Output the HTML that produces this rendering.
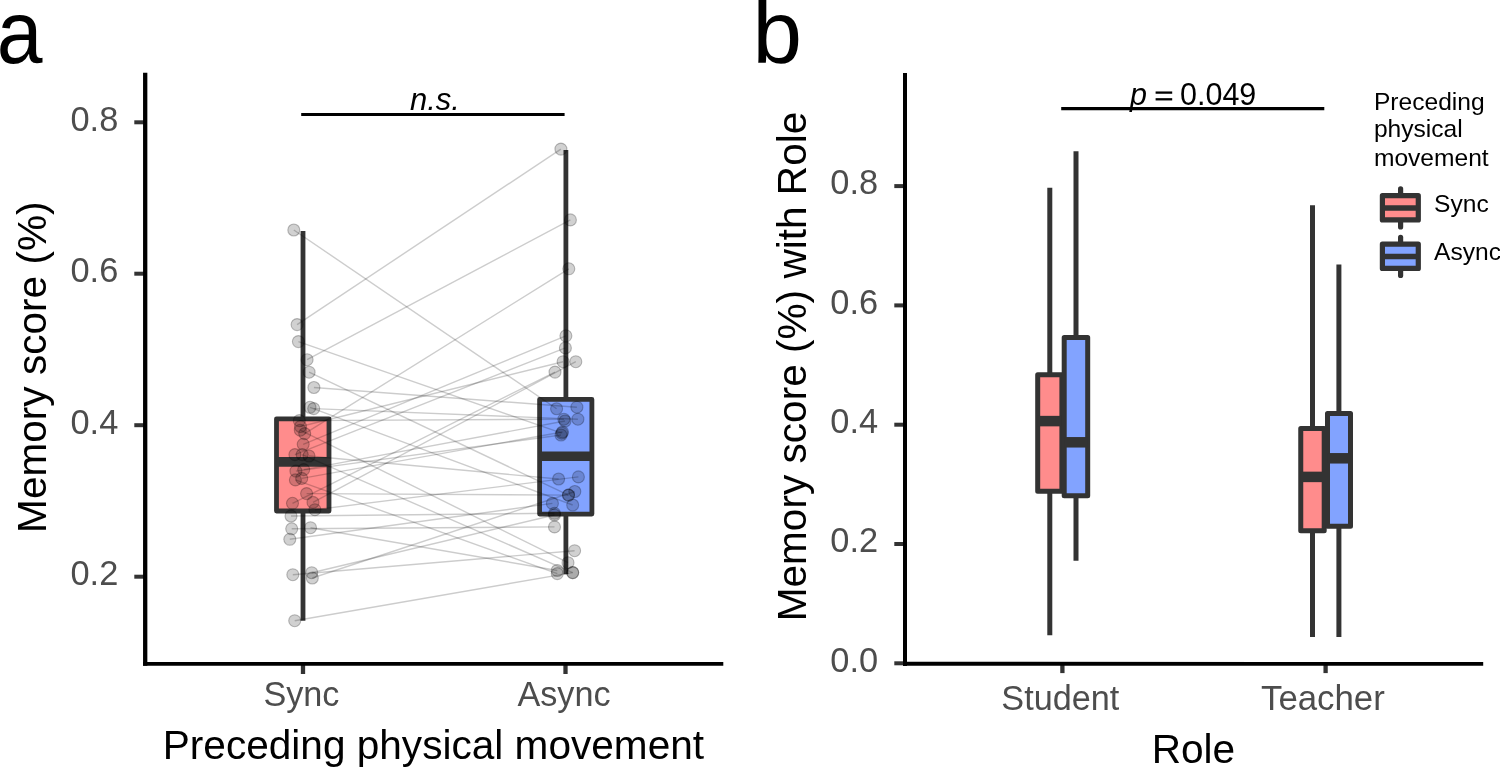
<!DOCTYPE html><html><head><meta charset="utf-8"><style>html,body{margin:0;padding:0;background:#fff;width:1500px;height:768px;overflow:hidden}svg{display:block;will-change:transform}text{font-family:"Liberation Sans", sans-serif}</style></head><body>
<svg width="1500" height="768" viewBox="0 0 1500 768">
<rect width="1500" height="768" fill="#fff"/>
<text transform="translate(-3.2,63) scale(0.925,1)" font-size="89" fill="#000">a</text>
<text x="752.4" y="63" font-size="89" text-anchor="start" fill="#000" >b</text>
<text transform="translate(46.4,367.2) rotate(-90)" font-size="40.6" text-anchor="middle" fill="#000">Memory score (%)</text>
<line x1="134.3" y1="122.3" x2="145" y2="122.3" stroke="#333333" stroke-width="4"/>
<text x="118.3" y="130.6" font-size="34.4" text-anchor="end" fill="#4D4D4D" >0.8</text>
<line x1="134.3" y1="273.7" x2="145" y2="273.7" stroke="#333333" stroke-width="4"/>
<text x="118.3" y="282.0" font-size="34.4" text-anchor="end" fill="#4D4D4D" >0.6</text>
<line x1="134.3" y1="425.2" x2="145" y2="425.2" stroke="#333333" stroke-width="4"/>
<text x="118.3" y="433.5" font-size="34.4" text-anchor="end" fill="#4D4D4D" >0.4</text>
<line x1="134.3" y1="576.7" x2="145" y2="576.7" stroke="#333333" stroke-width="4"/>
<text x="118.3" y="585.0" font-size="34.4" text-anchor="end" fill="#4D4D4D" >0.2</text>
<line x1="303" y1="663" x2="303" y2="674" stroke="#333333" stroke-width="4.3"/>
<text x="301.4" y="706.3" font-size="34.2" text-anchor="middle" fill="#4D4D4D" >Sync</text>
<line x1="565.5" y1="663" x2="565.5" y2="674" stroke="#333333" stroke-width="4.3"/>
<text x="564" y="706.3" font-size="34.2" text-anchor="middle" fill="#4D4D4D" >Async</text>
<text x="433.4" y="759.4" font-size="40.6" text-anchor="middle" fill="#000" >Preceding physical movement</text>
<line x1="303" y1="231" x2="303" y2="620.7" stroke="#333333" stroke-width="4.8"/>
<line x1="565.9" y1="150" x2="565.9" y2="574.2" stroke="#333333" stroke-width="4.8"/>
<rect x="276.5" y="418.8" width="52.5" height="92.2" fill="#FF8C8C" stroke="#333333" stroke-width="4.8" stroke-linejoin="round"/>
<line x1="276.5" y1="461.9" x2="329" y2="461.9" stroke="#333333" stroke-width="9.8"/>
<rect x="539.6" y="399.4" width="52.3" height="114.7" fill="#82A3FF" stroke="#333333" stroke-width="4.8" stroke-linejoin="round"/>
<line x1="539.6" y1="456.2" x2="591.9" y2="456.2" stroke="#333333" stroke-width="9.6"/>
<g stroke="#000" stroke-opacity="0.2" stroke-width="1.4">
<line x1="293.8" y1="230.0" x2="556.6" y2="408.75"/>
<line x1="297.1" y1="324.6" x2="560.9" y2="149.1"/>
<line x1="298.4" y1="341.6" x2="561.8" y2="433.2"/>
<line x1="307.1" y1="359.7" x2="570.4" y2="219.9"/>
<line x1="309.1" y1="372.2" x2="568.5" y2="495.1"/>
<line x1="313.9" y1="387.5" x2="576.9" y2="407.2"/>
<line x1="313.7" y1="408.6" x2="577.9" y2="419.2"/>
<line x1="310.0" y1="407.3" x2="572.7" y2="505.0"/>
<line x1="299.3" y1="420.6" x2="563.9" y2="419.2"/>
<line x1="300.5" y1="426.5" x2="563.1" y2="361.7"/>
<line x1="304.7" y1="433.6" x2="568.8" y2="268.8"/>
<line x1="300.3" y1="430.2" x2="568.0" y2="562.7"/>
<line x1="303.2" y1="444.3" x2="565.9" y2="335.8"/>
<line x1="294.9" y1="454.6" x2="565.4" y2="347.9"/>
<line x1="302.2" y1="454.6" x2="572.7" y2="572.6"/>
<line x1="309.0" y1="456.0" x2="558.6" y2="479.0"/>
<line x1="295.9" y1="471.1" x2="561.0" y2="435.0"/>
<line x1="303.7" y1="469.6" x2="565.0" y2="421.0"/>
<line x1="295.4" y1="479.9" x2="557.3" y2="573.6"/>
<line x1="301.7" y1="478.4" x2="562.5" y2="432.0"/>
<line x1="306.6" y1="493.6" x2="568.5" y2="495.1"/>
<line x1="292.5" y1="503.3" x2="555.0" y2="372.1"/>
<line x1="313.0" y1="502.4" x2="575.8" y2="361.7"/>
<line x1="314.9" y1="509.7" x2="578.4" y2="476.9"/>
<line x1="291.0" y1="516.0" x2="554.5" y2="513.3"/>
<line x1="291.7" y1="528.8" x2="554.5" y2="526.9"/>
<line x1="310.5" y1="527.7" x2="557.3" y2="570.5"/>
<line x1="289.8" y1="539.3" x2="552.4" y2="503.4"/>
<line x1="292.8" y1="574.7" x2="574.6" y2="550.7"/>
<line x1="311.7" y1="572.7" x2="554.5" y2="515.0"/>
<line x1="312.3" y1="578.0" x2="574.8" y2="491.5"/>
<line x1="294.7" y1="620.7" x2="572.7" y2="572.6"/>
</g>
<g fill="#000" fill-opacity="0.18" stroke="#000" stroke-opacity="0.25" stroke-width="1.1">
<circle cx="293.8" cy="230.0" r="6.0"/>
<circle cx="556.6" cy="408.75" r="6.0"/>
<circle cx="297.1" cy="324.6" r="6.0"/>
<circle cx="560.9" cy="149.1" r="6.0"/>
<circle cx="298.4" cy="341.6" r="6.0"/>
<circle cx="561.8" cy="433.2" r="6.0"/>
<circle cx="307.1" cy="359.7" r="6.0"/>
<circle cx="570.4" cy="219.9" r="6.0"/>
<circle cx="309.1" cy="372.2" r="6.0"/>
<circle cx="568.5" cy="495.1" r="6.0"/>
<circle cx="313.9" cy="387.5" r="6.0"/>
<circle cx="576.9" cy="407.2" r="6.0"/>
<circle cx="313.7" cy="408.6" r="6.0"/>
<circle cx="577.9" cy="419.2" r="6.0"/>
<circle cx="310.0" cy="407.3" r="6.0"/>
<circle cx="572.7" cy="505.0" r="6.0"/>
<circle cx="299.3" cy="420.6" r="6.0"/>
<circle cx="563.9" cy="419.2" r="6.0"/>
<circle cx="300.5" cy="426.5" r="6.0"/>
<circle cx="563.1" cy="361.7" r="6.0"/>
<circle cx="304.7" cy="433.6" r="6.0"/>
<circle cx="568.8" cy="268.8" r="6.0"/>
<circle cx="300.3" cy="430.2" r="6.0"/>
<circle cx="568.0" cy="562.7" r="6.0"/>
<circle cx="303.2" cy="444.3" r="6.0"/>
<circle cx="565.9" cy="335.8" r="6.0"/>
<circle cx="294.9" cy="454.6" r="6.0"/>
<circle cx="565.4" cy="347.9" r="6.0"/>
<circle cx="302.2" cy="454.6" r="6.0"/>
<circle cx="572.7" cy="572.6" r="6.0"/>
<circle cx="309.0" cy="456.0" r="6.0"/>
<circle cx="558.6" cy="479.0" r="6.0"/>
<circle cx="295.9" cy="471.1" r="6.0"/>
<circle cx="561.0" cy="435.0" r="6.0"/>
<circle cx="303.7" cy="469.6" r="6.0"/>
<circle cx="565.0" cy="421.0" r="6.0"/>
<circle cx="295.4" cy="479.9" r="6.0"/>
<circle cx="557.3" cy="573.6" r="6.0"/>
<circle cx="301.7" cy="478.4" r="6.0"/>
<circle cx="562.5" cy="432.0" r="6.0"/>
<circle cx="306.6" cy="493.6" r="6.0"/>
<circle cx="568.5" cy="495.1" r="6.0"/>
<circle cx="292.5" cy="503.3" r="6.0"/>
<circle cx="555.0" cy="372.1" r="6.0"/>
<circle cx="313.0" cy="502.4" r="6.0"/>
<circle cx="575.8" cy="361.7" r="6.0"/>
<circle cx="314.9" cy="509.7" r="6.0"/>
<circle cx="578.4" cy="476.9" r="6.0"/>
<circle cx="291.0" cy="516.0" r="6.0"/>
<circle cx="554.5" cy="513.3" r="6.0"/>
<circle cx="291.7" cy="528.8" r="6.0"/>
<circle cx="554.5" cy="526.9" r="6.0"/>
<circle cx="310.5" cy="527.7" r="6.0"/>
<circle cx="557.3" cy="570.5" r="6.0"/>
<circle cx="289.8" cy="539.3" r="6.0"/>
<circle cx="552.4" cy="503.4" r="6.0"/>
<circle cx="292.8" cy="574.7" r="6.0"/>
<circle cx="574.6" cy="550.7" r="6.0"/>
<circle cx="311.7" cy="572.7" r="6.0"/>
<circle cx="554.5" cy="515.0" r="6.0"/>
<circle cx="312.3" cy="578.0" r="6.0"/>
<circle cx="574.8" cy="491.5" r="6.0"/>
<circle cx="294.7" cy="620.7" r="6.0"/>
<circle cx="572.7" cy="572.6" r="6.0"/>
</g>
<line x1="145.2" y1="72.7" x2="145.2" y2="665.7" stroke="#000" stroke-width="4.3"/>
<line x1="143.1" y1="663.9" x2="723.3" y2="663.9" stroke="#000" stroke-width="3.8"/>
<line x1="301.2" y1="114.5" x2="564.6" y2="114.5" stroke="#000" stroke-width="3.1"/>
<text x="410" y="110" font-size="31" text-anchor="start" fill="#000" font-style="italic">n.s.</text>
<text transform="translate(805.8,366.5) rotate(-90)" font-size="40.6" text-anchor="middle" fill="#000">Memory score (%) with Role</text>
<line x1="894.3" y1="663.3" x2="905" y2="663.3" stroke="#333333" stroke-width="4"/>
<text x="878.1" y="671.5999999999999" font-size="34.4" text-anchor="end" fill="#4D4D4D" >0.0</text>
<line x1="894.3" y1="544.0" x2="905" y2="544.0" stroke="#333333" stroke-width="4"/>
<text x="878.1" y="552.3" font-size="34.4" text-anchor="end" fill="#4D4D4D" >0.2</text>
<line x1="894.3" y1="424.7" x2="905" y2="424.7" stroke="#333333" stroke-width="4"/>
<text x="878.1" y="433.0" font-size="34.4" text-anchor="end" fill="#4D4D4D" >0.4</text>
<line x1="894.3" y1="305.4" x2="905" y2="305.4" stroke="#333333" stroke-width="4"/>
<text x="878.1" y="313.7" font-size="34.4" text-anchor="end" fill="#4D4D4D" >0.6</text>
<line x1="894.3" y1="186.1" x2="905" y2="186.1" stroke="#333333" stroke-width="4"/>
<text x="878.1" y="194.4" font-size="34.4" text-anchor="end" fill="#4D4D4D" >0.8</text>
<line x1="1062.4" y1="663" x2="1062.4" y2="673.1" stroke="#333333" stroke-width="4.3"/>
<text x="1060.3" y="710" font-size="34.2" text-anchor="middle" fill="#4D4D4D" >Student</text>
<line x1="1325.6" y1="663" x2="1325.6" y2="673.1" stroke="#333333" stroke-width="4.3"/>
<text x="1322.9" y="710" font-size="34.8" text-anchor="middle" fill="#4D4D4D" >Teacher</text>
<text x="1193.4" y="763.3" font-size="40.6" text-anchor="middle" fill="#000" >Role</text>
<line x1="1049.8" y1="187.8" x2="1049.8" y2="635.2" stroke="#333333" stroke-width="5"/>
<line x1="1076" y1="151.2" x2="1076" y2="560.8" stroke="#333333" stroke-width="5"/>
<line x1="1312.5" y1="205.2" x2="1312.5" y2="636.9" stroke="#333333" stroke-width="5"/>
<line x1="1338.9" y1="264.4" x2="1338.9" y2="636.9" stroke="#333333" stroke-width="5"/>
<rect x="1037.7" y="374.8" width="24.20" height="116.40" fill="#FF8C8C" stroke="#333333" stroke-width="5" stroke-linejoin="round"/>
<line x1="1037.7" y1="421.1" x2="1061.9" y2="421.1" stroke="#333333" stroke-width="10.5"/>
<rect x="1064.2" y="337.5" width="23.50" height="158.20" fill="#82A3FF" stroke="#333333" stroke-width="5" stroke-linejoin="round"/>
<line x1="1064.2" y1="442.3" x2="1087.7" y2="442.3" stroke="#333333" stroke-width="10.5"/>
<rect x="1300.75" y="428.5" width="23.45" height="102.20" fill="#FF8C8C" stroke="#333333" stroke-width="5" stroke-linejoin="round"/>
<line x1="1300.75" y1="476.9" x2="1324.2" y2="476.9" stroke="#333333" stroke-width="10.5"/>
<rect x="1327.5" y="413.6" width="23.00" height="112.60" fill="#82A3FF" stroke="#333333" stroke-width="5" stroke-linejoin="round"/>
<line x1="1327.5" y1="458.3" x2="1350.5" y2="458.3" stroke="#333333" stroke-width="10.5"/>
<line x1="905" y1="73" x2="905" y2="666" stroke="#000" stroke-width="4"/>
<line x1="903" y1="663.8" x2="1483.2" y2="663.9" stroke="#000" stroke-width="3.9"/>
<line x1="1061.2" y1="108.6" x2="1324.3" y2="108.6" stroke="#000" stroke-width="3.1"/>
<text x="1130" y="105" font-size="30.5" text-anchor="start" fill="#000" font-style="italic">p</text>
<line x1="1155.6" y1="92.6" x2="1172.2" y2="92.6" stroke="#000" stroke-width="2.3"/><line x1="1155.6" y1="99.3" x2="1172.2" y2="99.3" stroke="#000" stroke-width="2.3"/>
<text x="1180" y="105" font-size="30.5" text-anchor="start" fill="#000" >0.049</text>
<text x="1373.9" y="109.9" font-size="24.6" text-anchor="start" fill="#000" >Preceding</text>
<text x="1373.9" y="136.9" font-size="24.6" text-anchor="start" fill="#000" >physical</text>
<text x="1373.9" y="165.9" font-size="24.6" text-anchor="start" fill="#000" >movement</text>
<line x1="1400.6" y1="188.8" x2="1400.6" y2="227.0" stroke="#333333" stroke-width="5.2" stroke-linecap="round"/>
<rect x="1382.4" y="195.7" width="35.9" height="24.2" fill="#FF8C8C" stroke="#333333" stroke-width="5.2" stroke-linejoin="round"/>
<line x1="1382.4" y1="208.0" x2="1418.3" y2="208.0" stroke="#333333" stroke-width="5.5"/>
<text x="1434" y="211.7" font-size="24.6" text-anchor="start" fill="#000" >Sync</text>
<line x1="1400.6" y1="237.3" x2="1400.6" y2="275.5" stroke="#333333" stroke-width="5.2" stroke-linecap="round"/>
<rect x="1382.4" y="244.2" width="35.9" height="24.2" fill="#82A3FF" stroke="#333333" stroke-width="5.2" stroke-linejoin="round"/>
<line x1="1382.4" y1="256.5" x2="1418.3" y2="256.5" stroke="#333333" stroke-width="5.5"/>
<text x="1434" y="260.2" font-size="24.6" text-anchor="start" fill="#000" >Async</text>
</svg></body></html>
